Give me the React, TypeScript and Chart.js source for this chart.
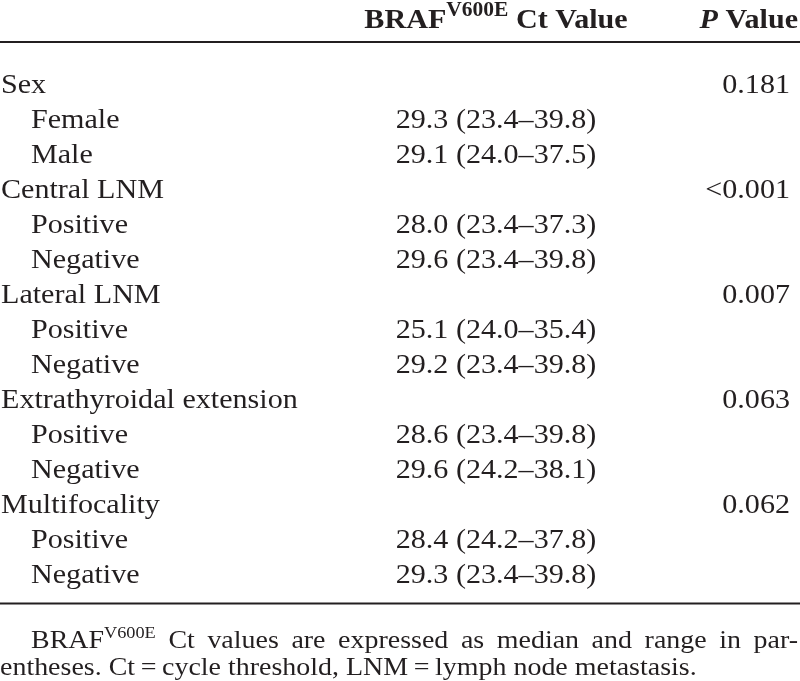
import React, { useEffect, useRef } from "react";
import { Chart, registerables } from "chart.js";

Chart.register(...registerables);

// ---- Data ----
const groupLabels = ["Sex", "Central LNM", "Lateral LNM", "Extrathyroidal extension", "Multifocality"];
const groupPValues = ["0.181", "<0.001", "0.007", "0.063", "0.062"];
const subLabels = [
  ["Female", "Male"],
  ["Positive", "Negative"],
  ["Positive", "Negative"],
  ["Positive", "Negative"],
  ["Positive", "Negative"],
];
const medianCt = [
  [29.3, 29.1],
  [28.0, 29.6],
  [25.1, 29.2],
  [28.6, 29.6],
  [28.4, 29.3],
];
const minCt = [
  [23.4, 24.0],
  [23.4, 23.4],
  [24.0, 23.4],
  [23.4, 24.2],
  [24.2, 23.4],
];
const maxCt = [
  [39.8, 37.5],
  [37.3, 39.8],
  [35.4, 39.8],
  [39.8, 38.1],
  [37.8, 39.8],
];
const headerCol1 = "BRAF";
const headerSup = "V600E";
const headerCol1Rest = " Ct Value";
const headerP = "P";
const headerPRest = " Value";
const footLine1Words = ["Ct", "values", "are", "expressed", "as", "median", "and", "range", "in", "par-"];
const footLine2 = "entheses. Ct\u2009=\u2009cycle threshold, LNM\u2009=\u2009lymph node metastasis.";

// ---- Build rows ----
type Row = { label: string; value: string; p: string; indent: boolean };
const rows: Row[] = [];
groupLabels.forEach((g, gi) => {
  rows.push({ label: g, value: "", p: groupPValues[gi], indent: false });
  subLabels[gi].forEach((s, si) => {
    rows.push({
      label: s,
      value: `${medianCt[gi][si].toFixed(1)} (${minCt[gi][si].toFixed(1)}\u2013${maxCt[gi][si].toFixed(1)})`,
      p: "",
      indent: true,
    });
  });
});
const rowKeys = rows.map((r, i) => `${i}:${r.label}`);

// ---- Styling ----
const FAMILY = '"Liberation Serif"';
const SX = 1.075;
const COLOR = "#231f20";
const BODY = 28;
const FOOT = 26;

type Seg = { t: string; font: string; dy?: number };

function segWidth(ctx: CanvasRenderingContext2D, segs: Seg[]) {
  let w = 0;
  for (const s of segs) {
    ctx.font = s.font;
    w += ctx.measureText(s.t).width * SX;
  }
  return w;
}

function drawSegs(ctx: CanvasRenderingContext2D, segs: Seg[], x: number, y: number, align: "left" | "right" | "center") {
  const w = segWidth(ctx, segs);
  let cx = align === "left" ? x : align === "right" ? x - w : x - w / 2;
  for (const s of segs) {
    ctx.font = s.font;
    const sw = ctx.measureText(s.t).width * SX;
    ctx.save();
    ctx.translate(cx, y + (s.dy || 0));
    ctx.scale(SX, 1);
    ctx.textAlign = "left";
    ctx.textBaseline = "alphabetic";
    ctx.fillText(s.t, 0, 0);
    ctx.restore();
    cx += sw;
  }
  return w;
}

const tablePlugin = {
  id: "tablePlugin",
  afterDraw(chart: any) {
    const ctx: CanvasRenderingContext2D = chart.ctx;
    const yScale = chart.scales.y;
    const W = chart.width;
    ctx.save();
    ctx.fillStyle = COLOR;
    ctx.strokeStyle = COLOR;

    const body = `${BODY}px ${FAMILY}`;
    const bold = `bold ${BODY}px ${FAMILY}`;
    const boldItalic = `italic bold ${BODY}px ${FAMILY}`;
    const supBold = `bold 20px ${FAMILY}`;
    const col1Center = 496;
    const pRight = 790;

    // header
    const headerBase = 28;
    drawSegs(
      ctx,
      [
        { t: headerCol1, font: bold },
        { t: headerSup, font: supBold, dy: -12 },
        { t: headerCol1Rest, font: bold },
      ],
      col1Center,
      headerBase,
      "center"
    );
    drawSegs(
      ctx,
      [
        { t: headerP, font: boldItalic },
        { t: headerPRest, font: bold },
      ],
      798,
      headerBase,
      "right"
    );

    // rules
    ctx.fillRect(0, 41, W, 2);

    // rows
    rows.forEach((r, i) => {
      const yc = yScale.getPixelForValue(i);
      const base = yc + 9;
      drawSegs(ctx, [{ t: r.label, font: body }], r.indent ? 31 : 1, base, "left");
      if (r.value) drawSegs(ctx, [{ t: r.value, font: body }], col1Center, base, "center");
      if (r.p) drawSegs(ctx, [{ t: r.p, font: body }], pRight, base, "right");
    });

    const lastBase = yScale.getPixelForValue(rows.length - 1) + 9;
    ctx.fillRect(0, lastBase + 20, W, 2);

    // footnote
    const foot = `${FOOT}px ${FAMILY}`;
    const footSup = `17px ${FAMILY}`;
    const f1 = lastBase + 65;
    const f2 = f1 + 27;
    const lead: Seg[] = [
      { t: "BRAF", font: foot },
      { t: "V600E", font: footSup, dy: -10 },
    ];
    const startX = 31;
    const endX = 798;
    const leadW = segWidth(ctx, lead);
    ctx.font = foot;
    const wordWs = footLine1Words.map((w) => ctx.measureText(w).width * SX);
    const totalWords = wordWs.reduce((a, b) => a + b, 0);
    const gaps = footLine1Words.length;
    const gap = (endX - startX - leadW - totalWords) / gaps;
    drawSegs(ctx, lead, startX, f1, "left");
    let cx = startX + leadW + gap;
    footLine1Words.forEach((w, i) => {
      drawSegs(ctx, [{ t: w, font: foot }], cx, f1, "left");
      cx += wordWs[i] + gap;
    });
    drawSegs(ctx, [{ t: footLine2, font: foot }], 0, f2, "left");

    ctx.restore();
  },
};

export default function App() {
  const ref = useRef<HTMLCanvasElement | null>(null);
  useEffect(() => {
    let chart: Chart | null = null;
    let cancelled = false;
    const make = () => {
      if (cancelled || !ref.current) return;
      chart = new Chart(ref.current, {
        type: "scatter",
        data: { labels: rowKeys, datasets: [] },
        options: {
          animation: false,
          responsive: false,
          events: [],
          layout: { padding: { top: 66, bottom: 681 - 66 - rows.length * 35, left: 0, right: 0 } },
          plugins: { legend: { display: false }, tooltip: { enabled: false } },
          scales: {
            x: { type: "linear", min: 0, max: 1, display: false },
            y: { type: "category", labels: rowKeys, offset: true, display: false },
          },
        },
        plugins: [tablePlugin],
      });
    };
    const fonts: any = (document as any).fonts;
    if (fonts && fonts.load) {
      Promise.all([
        fonts.load(`28px "Liberation Serif"`),
        fonts.load(`bold 28px "Liberation Serif"`),
        fonts.load(`italic bold 28px "Liberation Serif"`),
      ])
        .catch(() => null)
        .then(() => make());
    } else {
      make();
    }
    return () => {
      cancelled = true;
      if (chart) chart.destroy();
    };
  }, []);
  return (
    <div>
      <span style={{ fontFamily: '"Liberation Serif"', position: "absolute", left: -9999, top: 0 }}>
        Aa <b>Bb</b> <i><b>Cc</b></i>
      </span>
      <canvas
        ref={ref}
        width={800}
        height={681}
        style={{ position: "absolute", left: 0, top: 0, width: 800, height: 681, background: "#fff" }}
      />
    </div>
  );
}
